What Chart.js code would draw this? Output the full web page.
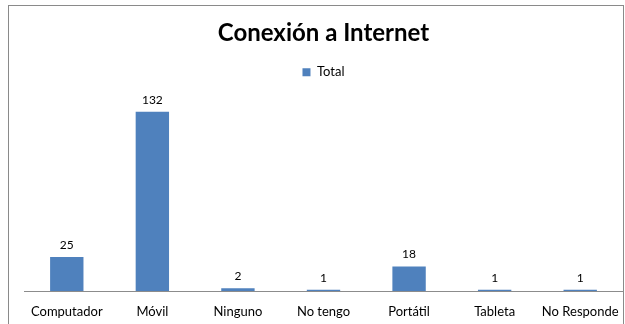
<!DOCTYPE html>
<html>
<head>
<meta charset="utf-8">
<script src="https://cdn.jsdelivr.net/npm/chart.js@4.4.0/dist/chart.umd.min.js"></script>
<style>
  html, body { margin: 0; padding: 0; background: #fff; }
  #marco { position: absolute; left: 8px; top: 5px; width: 614px; height: 330px; border: 1px solid #8a8a8a; }
  #envoltura { position: absolute; left: 0; top: 0; width: 625px; height: 324px; }
</style>
</head>
<body>
<div id="marco"></div>
<div id="envoltura"><canvas id="grafico"></canvas></div>
<script>
// Datos de conexión a internet
const categorias = ['Computador', 'Móvil', 'Ninguno', 'No tengo', 'Portátil', 'Tableta', 'No Responde'];
const totales = [25, 132, 2, 1, 18, 1, 1];

const fuente = 'Lato, "Noto Sans", sans-serif';

// Etiquetas de valor encima de cada barra
const etiquetasValor = {
  id: 'etiquetasValor',
  afterDatasetsDraw(chart) {
    const ctx = chart.ctx;
    const meta = chart.getDatasetMeta(0);
    ctx.save();
    ctx.font = '12px ' + fuente;
    ctx.fillStyle = '#000';
    ctx.textAlign = 'center';
    ctx.textBaseline = 'bottom';
    meta.data.forEach((barra, i) => {
      ctx.fillText(totales[i], barra.x, barra.y - 6);
    });
    ctx.restore();
  }
};

// Más aire entre la leyenda y las barras
const espacioLeyenda = {
  id: 'espacioLeyenda',
  beforeInit(chart) {
    const fitOriginal = chart.legend.fit;
    chart.legend.fit = function() {
      fitOriginal.bind(chart.legend)();
      this.height += 12;
    };
  }
};

const ctx = document.getElementById('grafico').getContext('2d');
new Chart(ctx, {
  type: 'bar',
  data: {
    labels: categorias,
    datasets: [{
      label: 'Total',
      data: totales,
      backgroundColor: '#4F81BD',
      borderWidth: 0,
      categoryPercentage: 1,
      barPercentage: 0.39
    }]
  },
  options: {
    responsive: true,
    maintainAspectRatio: false,
    animation: false,
    layout: { padding: { top: 19, left: 24, right: 2, bottom: 0 } },
    scales: {
      x: {
        grid: { display: false },
        border: { display: true, color: '#8c8c8c', width: 1 },
        ticks: { color: '#000', font: { family: fuente, size: 13 }, padding: 5, maxRotation: 0, autoSkip: false },
        afterFit(escala) { escala.height = 33; }
      },
      y: {
        display: false,
        min: 0,
        max: 140
      }
    },
    plugins: {
      title: {
        display: true,
        text: 'Conexión a Internet',
        color: '#000',
        font: { family: fuente, size: 24, weight: 'bold' },
        padding: { top: 0, bottom: 8 }
      },
      legend: {
        display: true,
        labels: {
          color: '#000',
          font: { family: fuente, size: 13 },
          boxWidth: 8,
          boxHeight: 8,
          padding: 10
        }
      },
      tooltip: { enabled: false }
    }
  },
  plugins: [etiquetasValor, espacioLeyenda]
});
</script>
</body>
</html>
